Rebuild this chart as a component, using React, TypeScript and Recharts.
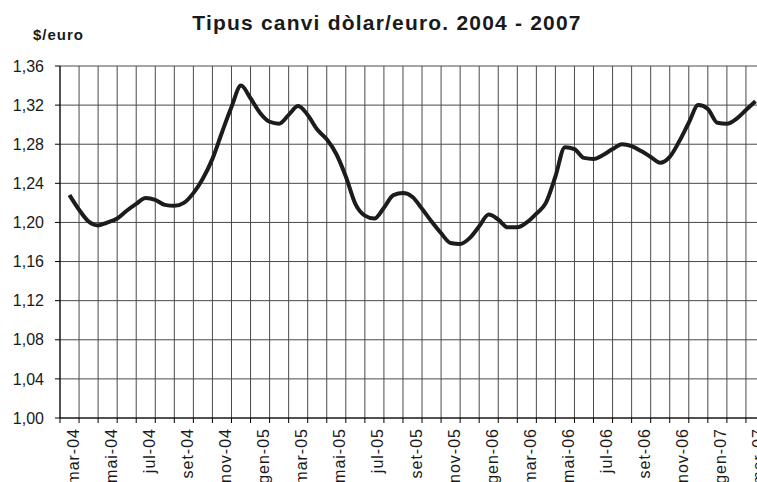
import React from 'react';
import { LineChart, Line, XAxis, YAxis, CartesianGrid } from 'recharts';

// one label per month, mar-04 .. mar-07
const months = [
  'mar-04', 'abr-04', 'mai-04', 'jun-04', 'jul-04', 'ago-04', 'set-04', 'oct-04', 'nov-04', 'des-04',
  'gen-05', 'feb-05', 'mar-05', 'abr-05', 'mai-05', 'jun-05', 'jul-05', 'ago-05', 'set-05', 'oct-05',
  'nov-05', 'des-05', 'gen-06', 'feb-06', 'mar-06', 'abr-06', 'mai-06', 'jun-06', 'jul-06', 'ago-06',
  'set-06', 'oct-06', 'nov-06', 'des-06', 'gen-07', 'feb-07', 'mar-07',
];

// $/euro, sampled twice a month (mid-month, then month end)
const rate = [
  1.228, 1.213, 1.201, 1.197, 1.200, 1.204, 1.212, 1.219, 1.225, 1.223,
  1.218, 1.217, 1.220, 1.230, 1.245, 1.265, 1.292, 1.318, 1.340, 1.327,
  1.312, 1.303, 1.301, 1.310, 1.319, 1.310, 1.295, 1.285, 1.270, 1.247,
  1.219, 1.207, 1.204, 1.215, 1.228, 1.230, 1.226, 1.214, 1.201, 1.189,
  1.179, 1.178, 1.184, 1.196, 1.208, 1.203, 1.195, 1.195, 1.200, 1.209,
  1.220, 1.247, 1.277, 1.275, 1.266, 1.265, 1.269, 1.275, 1.280, 1.278,
  1.273, 1.267, 1.261, 1.267, 1.283, 1.302, 1.320, 1.316, 1.302, 1.301,
  1.306, 1.315, 1.324,
];

const yTicks = [1.0, 1.04, 1.08, 1.12, 1.16, 1.2, 1.24, 1.28, 1.32, 1.36];

const data = rate.map((v, i) => ({ t: 0.5 + i * 0.5, v }));
const gridTicks = [...months.map((_, i) => i), months.length];
const labelTicks = months.map((_, i) => i).filter((i) => i % 2 === 0).map((i) => i + 0.5);

const FONT = '"Liberation Sans", Arial, sans-serif';

function NoTick() {
  return <g />;
}

function MonthTick(props: any) {
  const { x, y, payload } = props;
  const label = months[Math.round(payload.value - 0.5)];
  return (
    <g transform={`translate(${x},${y})`}>
      <text
        transform="rotate(-90)"
        x={-5}
        y={0}
        dy={9}
        textAnchor="end"
        fontSize={16}
        fontFamily={FONT}
        letterSpacing={1}
        fill="#1a1a1a"
      >
        {label}
      </text>
    </g>
  );
}

export default function App() {
  return (
    <div
      style={{
        position: 'absolute',
        left: 0,
        top: 0,
        width: 757,
        height: 482,
        overflow: 'hidden',
        background: '#fff',
        fontFamily: FONT,
      }}
    >
      <div
        style={{
          position: 'absolute',
          left: 0,
          top: 12,
          width: 774,
          textAlign: 'center',
          fontSize: 21,
          lineHeight: '21px',
          fontWeight: 'bold',
          letterSpacing: 1.2,
          color: '#1a1a1a',
        }}
      >
        Tipus canvi dòlar/euro. 2004 - 2007
      </div>
      <div
        style={{
          position: 'absolute',
          left: 33,
          top: 27,
          fontSize: 15,
          lineHeight: '15px',
          fontWeight: 'bold',
          letterSpacing: 1,
          color: '#1a1a1a',
        }}
      >
        $/euro
      </div>
      <LineChart
        width={775}
        height={490}
        data={data}
        margin={{ top: 66, right: 10, bottom: 0, left: 0 }}
      >
        <CartesianGrid xAxisId="g" stroke="#4a4a4a" />
        <XAxis
          xAxisId="g"
          type="number"
          dataKey="t"
          domain={[0, months.length]}
          ticks={gridTicks}
          interval={0}
          tick={<NoTick />}
          tickSize={5}
          height={5}
          stroke="#000"
          allowDataOverflow
        />
        <XAxis
          xAxisId="l"
          type="number"
          dataKey="t"
          domain={[0, months.length]}
          ticks={labelTicks}
          interval={0}
          axisLine={false}
          tickLine={false}
          tickSize={0}
          tickMargin={0}
          height={67}
          tick={<MonthTick />}
          allowDataOverflow
        />
        <YAxis
          domain={[1, 1.36]}
          ticks={yTicks}
          interval={0}
          width={60}
          tickSize={5}
          tickMargin={11}
          stroke="#000"
          tick={{ fontSize: 16, fill: '#1a1a1a', fontFamily: FONT }}
          tickFormatter={(v: number) => v.toFixed(2).replace('.', ',')}
          allowDataOverflow
        />
        <Line
          xAxisId="g"
          type="monotone"
          dataKey="v"
          stroke="#1c1c1c"
          strokeWidth={4}
          dot={false}
          isAnimationActive={false}
        />
      </LineChart>
    </div>
  );
}
